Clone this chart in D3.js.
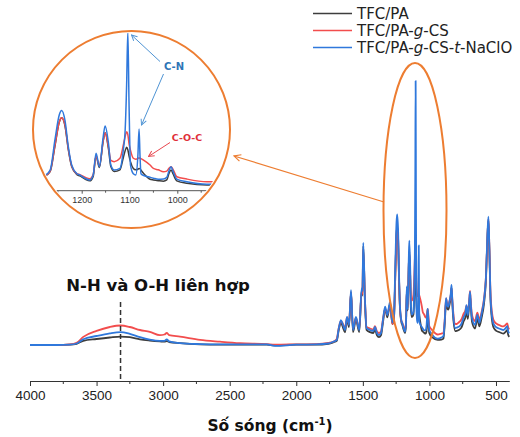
<!DOCTYPE html>
<html lang="vi">
<head>
<meta charset="UTF-8">
<title>FTIR TFC/PA</title>
<script src="https://d3js.org/d3.v7.min.js"></script>
<style>
  * { margin: 0; padding: 0; }
  body { background: #fff; }
  svg { display: block; font-family: "DejaVu Sans", "Liberation Sans", Arial, sans-serif; }
</style>
</head>
<body>
<script>
    var width = 520, height = 437;

    // wavenumbers (cm-1)
    var wavenumber = [4000, 3800, 3700, 3650, 3600, 3500, 3400, 3320, 3250, 3174, 3100, 3024, 2990, 2973, 2955, 2873, 2723, 2573, 2423, 2222, 2160, 2000, 1850, 1760, 1722,
        1696, 1683, 1665, 1649, 1634, 1619, 1604, 1589, 1574, 1552, 1527, 1509, 1503, 1497, 1484, 1472, 1446, 1421, 1409, 1394, 1379, 1364, 1349, 1333, 1316, 1296, 1285,
        1277, 1266, 1256, 1247, 1242, 1235, 1228, 1221, 1210, 1204, 1193, 1183, 1176, 1170, 1163, 1155, 1151, 1144, 1139, 1132, 1120, 1113, 1109, 1106, 1103.5, 1101, 1098, 1092, 1087, 1082.5, 1080, 1078, 1076, 1070, 1057, 1050, 1040, 1029, 1022, 1017, 1013, 1009, 1001, 980, 938,
        910, 895, 885, 875, 865, 858, 850, 840, 834, 828, 822, 805, 795, 780, 760, 742, 730, 722, 712, 702, 695, 688, 680, 658, 640, 625, 607, 590, 575, 565, 557, 550, 540, 520, 500, 483, 460, 445, 430, 415, 408, 400];

    // absorbance (arbitrary units)
    var absPA = [0.12, 0.12, 0.121, 0.124, 0.134, 0.14, 0.145, 0.148, 0.146, 0.139, 0.135, 0.132, 0.131, 0.133, 0.13, 0.126, 0.122, 0.121, 0.121, 0.121, 0.119, 0.121, 0.121, 0.124, 0.129,
        0.134, 0.165, 0.195, 0.178, 0.162, 0.205, 0.18, 0.295, 0.163, 0.205, 0.163, 0.3, 0.285, 0.45, 0.26, 0.17, 0.163, 0.16, 0.172, 0.152, 0.146, 0.152, 0.195, 0.24, 0.212, 0.255, 0.213,
        0.19, 0.212, 0.355, 0.49, 0.515, 0.47, 0.335, 0.24, 0.195, 0.188, 0.17, 0.16, 0.185, 0.30, 0.235, 0.385, 0.43, 0.34, 0.24, 0.213, 0.222, 0.29, 0.33, 0.349, 0.335, 0.3, 0.268, 0.23, 0.222, 0.225, 0.23, 0.228, 0.22, 0.2, 0.169, 0.165, 0.161, 0.158, 0.165, 0.205, 0.221, 0.2, 0.16, 0.146, 0.137,
        0.138, 0.141, 0.19, 0.265, 0.24, 0.238, 0.252, 0.28, 0.31, 0.26, 0.215, 0.166, 0.167, 0.17, 0.178, 0.2, 0.212, 0.24, 0.207, 0.25, 0.285, 0.24, 0.197, 0.175, 0.207, 0.182, 0.213, 0.258, 0.34, 0.47, 0.535, 0.44, 0.258, 0.18, 0.168, 0.164, 0.16, 0.158, 0.163, 0.17, 0.153, 0.147];

    var absCS = [0.12, 0.12, 0.122, 0.127, 0.147, 0.167, 0.18, 0.185, 0.18, 0.17, 0.164, 0.153, 0.155, 0.16, 0.153, 0.148, 0.137, 0.131, 0.126, 0.123, 0.121, 0.122, 0.123, 0.127, 0.131,
        0.14, 0.172, 0.2, 0.19, 0.175, 0.212, 0.19, 0.295, 0.175, 0.21, 0.175, 0.3, 0.29, 0.44, 0.27, 0.18, 0.175, 0.172, 0.183, 0.165, 0.16, 0.165, 0.205, 0.24, 0.222, 0.255, 0.215,
        0.19, 0.215, 0.36, 0.49, 0.515, 0.475, 0.34, 0.245, 0.2, 0.195, 0.18, 0.172, 0.195, 0.30, 0.245, 0.385, 0.43, 0.35, 0.275, 0.268, 0.287, 0.36, 0.41, 0.436, 0.42, 0.37, 0.333, 0.287, 0.282, 0.285, 0.29, 0.287, 0.285, 0.275, 0.249, 0.23, 0.222, 0.211, 0.215, 0.232, 0.24, 0.225, 0.183, 0.17, 0.155,
        0.158, 0.16, 0.205, 0.275, 0.255, 0.255, 0.265, 0.285, 0.31, 0.27, 0.235, 0.19, 0.19, 0.195, 0.205, 0.225, 0.235, 0.25, 0.23, 0.265, 0.3, 0.255, 0.22, 0.2, 0.228, 0.205, 0.232, 0.275, 0.35, 0.47, 0.54, 0.45, 0.28, 0.205, 0.192, 0.188, 0.183, 0.182, 0.186, 0.192, 0.178, 0.172];

    var absNaClO = [0.12, 0.12, 0.121, 0.125, 0.139, 0.15, 0.159, 0.163, 0.157, 0.146, 0.138, 0.134, 0.134, 0.139, 0.132, 0.126, 0.123, 0.122, 0.122, 0.122, 0.117, 0.121, 0.122, 0.125, 0.131,
        0.137, 0.17, 0.203, 0.187, 0.17, 0.214, 0.187, 0.303, 0.17, 0.214, 0.17, 0.309, 0.3, 0.461, 0.27, 0.176, 0.17, 0.167, 0.18, 0.16, 0.153, 0.16, 0.203, 0.248, 0.22, 0.264, 0.22,
        0.195, 0.221, 0.39, 0.53, 0.555, 0.50, 0.352, 0.249, 0.20, 0.193, 0.174, 0.165, 0.193, 0.315, 0.24, 0.408, 0.468, 0.371, 0.249, 0.221, 0.23, 0.333, 0.45, 0.7, 1.0, 0.6, 0.25, 0.2, 0.193, 0.3, 0.452, 0.3, 0.2, 0.19, 0.18, 0.175, 0.169, 0.17, 0.18, 0.22, 0.24, 0.215, 0.17, 0.155, 0.141,
        0.145, 0.15, 0.2, 0.276, 0.25, 0.248, 0.264, 0.29, 0.32, 0.27, 0.226, 0.176, 0.178, 0.181, 0.19, 0.214, 0.225, 0.253, 0.22, 0.26, 0.298, 0.25, 0.209, 0.187, 0.22, 0.194, 0.226, 0.27, 0.35, 0.48, 0.548, 0.45, 0.27, 0.192, 0.18, 0.176, 0.172, 0.17, 0.175, 0.183, 0.165, 0.159];

    var seriesNames = ['TFC/PA', 'TFC/PA-g-CS', 'TFC/PA-g-CS-t-NaClO'];
    var seriesColors = ['#3d3d3d', '#f24d4d', '#2f78dc'];
    var majorTicks = [4000, 3500, 3000, 2500, 2000, 1500, 1000, 500];
    var minorTicks = [3750, 3250, 2750, 2250, 1750, 1250, 750];
    var insetTicks = [1200, 1100, 1000];
    var insetMinor = [1250, 1150, 1050, 950];
    var nhPosition = 3320;

    if (absPA.length != wavenumber.length || absCS.length != wavenumber.length || absNaClO.length != wavenumber.length) {
        console.error('length mismatch', wavenumber.length, absPA.length, absCS.length, absNaClO.length);
    }

    var series = [absPA, absCS, absNaClO].map(function (vals, i) {
        return {
            name: seriesNames[i],
            color: seriesColors[i],
            points: wavenumber.map(function (w, j) { return [w, vals[j]]; })
        };
    });

    var svg = d3.select('body').append('svg')
        .attr('width', width)
        .attr('height', height);

    var defs = svg.append('defs');
    function marker(id, color) {
        defs.append('marker')
            .attr('id', id)
            .attr('viewBox', '0 0 10 10')
            .attr('refX', 9).attr('refY', 5)
            .attr('markerWidth', 7).attr('markerHeight', 7)
            .attr('orient', 'auto-start-reverse')
            .append('path')
            .attr('d', 'M1,1 L9,5 L1,9')
            .attr('fill', 'none')
            .attr('stroke', color)
            .attr('stroke-width', 1.4);
    }
    marker('arrOrange', '#ed7d31');
    marker('arrBlue', '#4f94d4');
    marker('arrRed', '#e8474f');

    /* main chart */
    var x = d3.scaleLinear().domain([4000, 400]).range([30, 509.3]);
    var y = d3.scaleLinear().domain([0, 1]).range([381, 81]);

    var line = d3.line()
        .x(function (d) { return x(d[0]); })
        .y(function (d) { return y(d[1]); })
        .curve(d3.curveMonotoneX);

    svg.append('g').selectAll('path')
        .data(series)
        .enter().append('path')
        .attr('d', function (d) { return line(d.points); })
        .attr('fill', 'none')
        .attr('stroke', function (d) { return d.color; })
        .attr('stroke-width', 1.8)
        .attr('stroke-linejoin', 'round');

    // x axis
    var xAxis = svg.append('g')
        .attr('transform', 'translate(0,381)')
        .call(d3.axisBottom(x).tickValues(majorTicks).tickFormat(d3.format('d'))
            .tickSize(5).tickSizeOuter(0).tickPadding(4));
    xAxis.selectAll('text').attr('font-size', 13.5).attr('fill', '#222').attr('font-family', null);
    xAxis.selectAll('line, path').attr('stroke', '#333');

    svg.append('g')
        .attr('transform', 'translate(0,381)')
        .selectAll('line')
        .data(minorTicks)
        .enter().append('line')
        .attr('x1', function (d) { return x(d); })
        .attr('x2', function (d) { return x(d); })
        .attr('y1', 0).attr('y2', 3)
        .attr('stroke', '#333');

    var title = svg.append('text')
        .attr('x', 270).attr('y', 431)
        .attr('text-anchor', 'middle')
        .attr('font-size', 15.5)
        .attr('font-weight', 'bold')
        .attr('fill', '#111');
    title.append('tspan').text('Số sóng (cm');
    title.append('tspan').attr('font-size', 10).attr('dy', -6).text('-1');
    title.append('tspan').attr('dy', 6).text(')');

    // N-H / O-H marker
    svg.append('line')
        .attr('x1', x(nhPosition)).attr('x2', x(nhPosition))
        .attr('y1', 302).attr('y2', 381)
        .attr('stroke', '#333')
        .attr('stroke-width', 1.5)
        .attr('stroke-dasharray', '5,3');

    svg.append('text')
        .attr('x', 158).attr('y', 291)
        .attr('text-anchor', 'middle')
        .attr('font-size', 16.5)
        .attr('font-weight', 'bold')
        .attr('fill', '#111')
        .text('N-H và O-H liên hợp');

    // legend
    var legend = svg.append('g').selectAll('g')
        .data(series)
        .enter().append('g')
        .attr('transform', function (d, i) { return 'translate(313,' + (13.5 + i * 17) + ')'; });
    legend.append('line')
        .attr('x1', 0).attr('x2', 39)
        .attr('stroke', function (d) { return d.color; })
        .attr('stroke-width', 1.6);
    var legendText = legend.append('text')
        .attr('x', 44).attr('y', 5.5)
        .attr('font-size', 15)
        .attr('fill', '#222');
    legendText.each(function (d) {
        var t = d3.select(this);
        d.name.split(/(-g-|-t-)/).forEach(function (part) {
            if (part == '-g-' || part == '-t-') {
                t.append('tspan').text('-');
                t.append('tspan').attr('font-style', 'italic').text(part[1]);
                t.append('tspan').text('-');
            } else {
                t.append('tspan').text(part);
            }
        });
    });

    // highlight ellipse and arrow to inset
    svg.append('ellipse')
        .attr('cx', 415).attr('cy', 210.5)
        .attr('rx', 31.5).attr('ry', 147.5)
        .attr('fill', 'none')
        .attr('stroke', '#ed7d31')
        .attr('stroke-width', 2);

    svg.append('line')
        .attr('x1', 384).attr('y1', 202)
        .attr('x2', 234).attr('y2', 156)
        .attr('stroke', '#ed7d31')
        .attr('stroke-width', 1.2)
        .attr('marker-end', 'url(#arrOrange)');

    /* inset */
    var cx = 131.5, cy = 129.5, r = 98.5;
    defs.append('clipPath').attr('id', 'insetClip')
        .append('circle').attr('cx', cx).attr('cy', cy).attr('r', r - 2);

    var xi = d3.scaleLinear().domain([1200, 1000]).range([81.7, 177.3]);
    var yi = d3.scaleLinear().domain([0, 1]).range([209.3, 31.5]);
    var lineInset = d3.line()
        .x(function (d) { return xi(d[0]); })
        .y(function (d) { return yi(d[1]); })
        .curve(d3.curveMonotoneX);

    var inset = svg.append('g').attr('clip-path', 'url(#insetClip)');

    inset.selectAll('path.inset')
        .data(series)
        .enter().append('path')
        .attr('class', 'inset')
        .attr('d', function (d) {
            return lineInset(d.points.filter(function (p) { return p[0] <= 1300 && p[0] >= 900; }));
        })
        .attr('fill', 'none')
        .attr('stroke', function (d) { return d.color; })
        .attr('stroke-width', 1.5)
        .attr('stroke-linejoin', 'round');

    var insetAxis = inset.append('g')
        .attr('transform', 'translate(0,190.7)')
        .call(d3.axisBottom(xi).tickValues(insetTicks).tickFormat(d3.format('d'))
            .tickSize(3).tickSizeOuter(0).tickPadding(3));
    insetAxis.select('.domain').attr('d', 'M' + xi(1300) + ',0H' + xi(900));
    insetAxis.selectAll('line, path').attr('stroke', '#555');
    insetAxis.selectAll('text').attr('font-size', 9).attr('fill', '#333').attr('font-family', null);
    inset.append('g')
        .attr('transform', 'translate(0,190.7)')
        .selectAll('line')
        .data(insetMinor)
        .enter().append('line')
        .attr('x1', function (d) { return xi(d); })
        .attr('x2', function (d) { return xi(d); })
        .attr('y1', 0).attr('y2', 2)
        .attr('stroke', '#555');

    svg.append('circle')
        .attr('cx', cx).attr('cy', cy).attr('r', r)
        .attr('fill', 'none')
        .attr('stroke', '#ed7d31')
        .attr('stroke-width', 2);

    // peak labels in the inset
    svg.append('text')
        .attr('x', 174).attr('y', 70)
        .attr('text-anchor', 'middle')
        .attr('font-size', 10)
        .attr('font-weight', 'bold')
        .attr('fill', '#2e75b6')
        .text('C-N');
    svg.append('line')
        .attr('x1', 160).attr('y1', 61.5).attr('x2', 131.5).attr('y2', 35)
        .attr('stroke', '#4f94d4').attr('stroke-width', 1)
        .attr('marker-end', 'url(#arrBlue)');
    svg.append('line')
        .attr('x1', 163.5).attr('y1', 74).attr('x2', 141.5).attr('y2', 125)
        .attr('stroke', '#4f94d4').attr('stroke-width', 1)
        .attr('marker-end', 'url(#arrBlue)');

    svg.append('text')
        .attr('x', 187).attr('y', 141)
        .attr('text-anchor', 'middle')
        .attr('font-size', 9.5)
        .attr('font-weight', 'bold')
        .attr('fill', '#e0303a')
        .text('C-O-C');
    svg.append('line')
        .attr('x1', 170).attr('y1', 142.5).attr('x2', 148.5).attr('y2', 156.5)
        .attr('stroke', '#e8474f').attr('stroke-width', 1)
        .attr('marker-end', 'url(#arrRed)');
</script>
</body>
</html>
